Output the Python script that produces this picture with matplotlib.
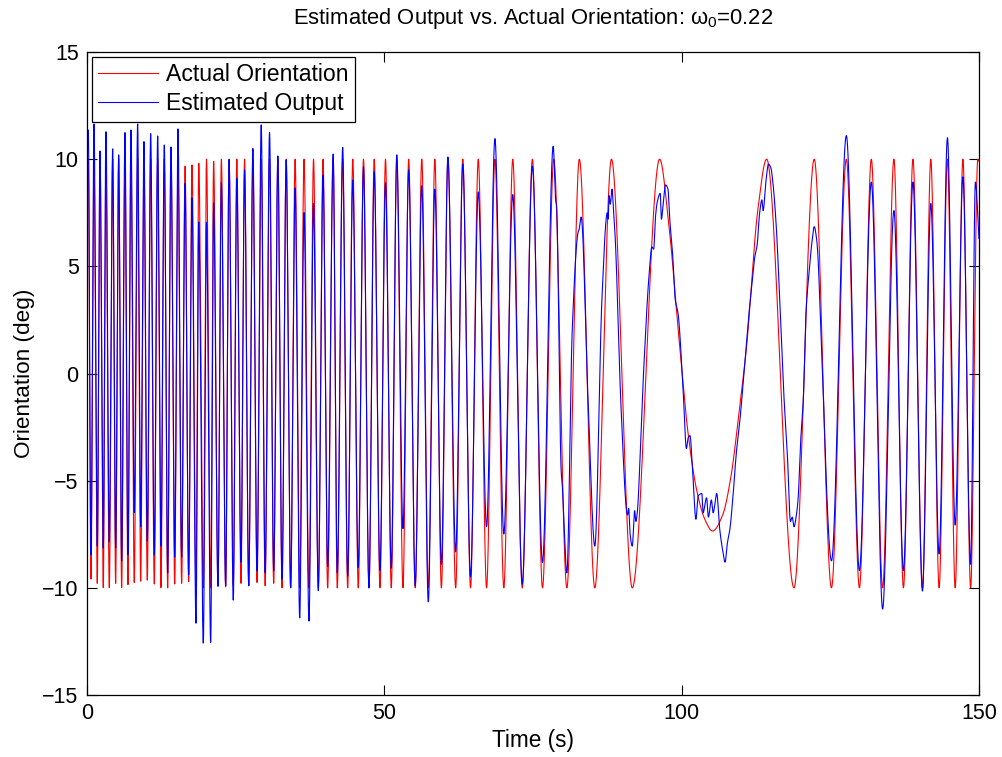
import numpy as np
import matplotlib
matplotlib.use("Agg")
import matplotlib.pyplot as plt

plt.rcParams["font.family"] = ["Liberation Sans", "DejaVu Sans"]
plt.rcParams["mathtext.fontset"] = "custom"
plt.rcParams["mathtext.rm"] = "Liberation Sans"
plt.rcParams["mathtext.it"] = "Liberation Sans"
plt.rcParams["axes.unicode_minus"] = True

# ---------------------------------------------------------------------------
# Actual orientation: turning points of the swept sine (time in s, value in deg)
# ---------------------------------------------------------------------------
red_start_t, red_start_v = 0.0, 8.5
red_end_t, red_end_v = 150.0, 9.9

red_max_t = [0.22, 1.18, 2.19, 3.19, 4.32, 5.33, 6.39, 7.4, 8.52, 9.58, 10.71,
             11.89, 13.0, 14.13, 15.3, 16.5, 17.66, 18.8, 20.1, 21.3, 22.6, 23.9,
             25.2, 26.5, 27.9, 29.3, 30.7, 32.1,
             33.5, 35.0, 36.5, 38.1, 39.7, 41.4, 43.0, 44.7, 46.5, 48.3, 50.2,
             52.1, 54.1, 56.3, 58.5, 60.7, 63.2, 65.8,
             68.6, 71.6, 74.9, 78.5, 82.8, 88.2, 96.3, 114.3, 122.3,
             127.7, 131.9, 135.7, 138.9, 141.9, 144.7, 147.3, 149.8]
red_max_v = [10, 10, 10, 10, 10, 10, 10, 10, 10, 10, 10,
             10, 10, 10, 10, 9.67, 9.73, 9.8, 10, 9.9, 10, 9.95,
             10, 10, 10, 10, 10, 10,
             10, 10, 10, 10, 10, 10, 10, 10, 10, 10, 10,
             10, 10, 10, 10, 10, 10, 10,
             10, 10, 10, 10, 10, 10, 10, 10, 10,
             10, 10, 10, 10, 10, 10, 10, 10]

red_min_t = [0.67, 1.73, 2.74, 3.75, 4.82, 5.83, 6.89, 7.95, 9.03, 10.14, 11.32,
             12.44, 13.57, 14.75, 15.92, 17.1, 18.33, 19.56, 20.8, 22.03, 23.32,
             24.6, 25.9, 27.2, 28.6, 29.96, 31.4, 32.8,
             34.25, 35.77, 37.33, 38.9, 40.47, 42.09, 43.84, 45.62, 47.42, 49.27,
             51.17, 53.14, 55.2, 57.4, 59.6, 62.0, 64.5,
             67.2, 70.1, 73.2, 76.6, 80.7, 85.4, 91.7, 105.2, 118.9,
             125.2, 129.9, 133.8, 137.3, 140.5, 143.3, 146.0, 148.6]
red_min_v = [-9.59, -9.79, -9.99, -9.99, -9.79, -9.99, -9.85, -9.75, -9.69, -9.64, -9.82,
             -9.99, -10, -9.82, -9.79, -9.7, -9.95, -10, -10, -9.9, -9.95,
             -9.85, -9.79, -9.9, -9.75, -9.9, -9.79, -10,
             -10, -10, -10, -10, -10, -10, -10, -10, -10, -10,
             -10, -10, -10, -10, -10, -10, -10,
             -10, -10, -10, -10, -10, -10, -10, -7.35, -10,
             -10, -10, -10, -10, -10, -10, -10, -10]

# Slow turn-around of the sweep: broad, flat-bottomed trough
red_slow_t = [97.9, 99.5, 101.0, 102.5, 103.9, 106.9, 108.3, 109.5, 110.9, 112.8]
red_slow_v = [6.8, 1.8, -2.6, -5.4, -6.8, -6.6, -4.8, -2.2, 1.2, 7.6]

# ---------------------------------------------------------------------------
# Estimated output: turning points in the fast parts of the sweep
# ---------------------------------------------------------------------------
blue_start_t, blue_start_v = 0.0, 10.0
blue_end_t, blue_end_v = 150.0, 6.3

blue_max_t = [0.22, 1.18, 2.19, 3.19, 4.32, 5.33, 6.39, 7.4, 8.52, 9.58, 10.71,
              11.89, 13.0, 14.13, 15.3, 16.5, 17.66, 18.8, 20.1, 21.3, 22.6, 23.9,
              25.2, 26.5, 27.9, 29.3, 30.7, 32.1,
              33.5, 35.0, 36.5, 38.1, 39.7, 41.4, 43.0, 44.7, 46.5, 48.3, 50.2,
              52.1, 54.1, 56.3, 58.5, 60.7, 63.2, 65.8,
              68.6, 71.6, 74.9,
              127.7, 131.9, 135.7, 138.9, 141.9, 144.7, 147.3, 149.4]
blue_max_v = [11.36, 11.64, 10.38, 11.28, 10.48, 10.2, 11.24, 11.36, 11.64, 10.82, 11.19,
              11.08, 10.66, 10.57, 11.41, 8.87, 8.2, 7.07, 7.05, 7.96, 8.9, 10.0,
              9.1, 9.5, 10.5, 11.6, 11.24, 10.15,
              9.96, 8.66, 7.51, 7.93, 9.26, 10.24, 10.55, 9.03, 9.65, 9.42, 8.9,
              10.2, 9.5, 8.76, 8.6, 10.1, 9.77, 8.47,
              10.96, 8.35, 9.68,
              11.1, 8.93, 7.6, 8.93, 7.93, 11.0, 9.18, 8.93]

blue_min_t = [0.67, 1.73, 2.74, 3.75, 4.82, 5.83, 6.89, 7.95, 9.03, 10.14, 11.32,
              12.44, 13.57, 14.75, 15.92, 17.1, 18.33, 19.56, 20.8, 22.03, 23.32,
              24.6, 25.9, 27.2, 28.6, 29.96, 31.4, 32.8,
              34.25, 35.77, 37.33, 38.9, 40.47, 42.09, 43.84, 45.62, 47.42, 49.27,
              51.17, 53.14, 55.2, 57.4, 59.6, 62.0, 64.5,
              67.2, 70.1, 73.2, 76.6,
              125.2, 129.9, 133.8, 137.3, 140.5, 143.3, 146.0, 148.6]
blue_min_v = [-8.47, -8.05, -8.14, -7.85, -8.14, -8.74, -8.47, -6.49, -7.15, -7.82, -8.47,
              -8.05, -9.3, -8.56, -8.56, -9.4, -11.65, -12.58, -12.55, -9.93, -9.9,
              -10.57, -8.8, -9.9, -9.2, -9.3, -9.2, -9.6,
              -9.99, -11.4, -11.55, -10.13, -9.0, -9.3, -9.45, -9.05, -10.0, -9.2,
              -9.08, -7.24, -9.9, -10.65, -8.9, -8.32, -9.49,
              -7.15, -7.49, -9.82, -8.82,
              -8.74, -9.2, -10.99, -9.2, -10.15, -8.42, -7.07, -8.9]

# Estimated output through the slow part of the sweep (noisy stretch)
blue_slow_t = [78.4, 78.85, 78.95, 79.75, 79.95, 80.1, 80.7, 81.6, 82.6, 82.75,
               83.1, 84.3, 85.4, 86.6, 87.5, 87.65, 87.8, 88.0, 88.3, 88.55,
               88.8, 89.8, 90.9, 91.1, 91.3, 91.7, 92.1, 92.3, 92.5, 93.5,
               94.5, 95.0, 95.3, 95.6, 95.9, 96.4, 96.6, 96.8, 97.3, 97.7,
               98.0, 98.5, 98.9, 99.4, 100.3, 100.8, 101.1, 101.4, 101.9, 102.4,
               102.8, 103.4, 103.6, 104.2, 104.5, 105.0, 105.3, 105.9, 106.4, 106.9,
               107.3, 107.7, 108.1, 108.7, 109.2, 109.8, 110.5, 111.2, 111.8, 112.3,
               112.7, 113.1, 113.5, 113.7, 114.2, 114.6, 115.0, 115.4, 115.9, 116.5,
               117.2, 117.8, 118.3, 118.6, 118.9, 119.3, 119.6, 120.0, 120.5, 120.9,
               121.5, 121.9, 122.3, 122.7, 122.9, 123.3]
blue_slow_v = [10.6, 8.0, 7.9, -4.6, -5.3, -6.2, -9.3, 2.0, 6.6, 6.7,
               7.3, -1.5, -8.05, 3.5, 7.5, 7.2, 8.3, 7.9, 8.6, 7.5,
               6.5, -1.5, -6.6, -6.3, -7.4, -8.05, -6.4, -6.9, -6.6, -0.5,
               4.5, 5.9, 5.8, 7.3, 8.0, 8.4, 7.2, 7.6, 8.8, 8.6,
               7.2, 5.5, 3.5, 2.8, -1.05, -3.5, -3.0, -2.9, -4.8, -6.8,
               -5.7, -5.6, -6.5, -5.8, -6.7, -5.9, -6.5, -5.6, -7.25, -8.25,
               -8.8, -7.9, -7.3, -5.5, -3.7, -2.2, 0.1, 2.45, 4.1, 5.44,
               6.0, 7.44, 8.1, 7.6, 9.03, 9.77, 9.6, 8.76, 6.93, 3.43,
               -1.05, -3.9, -6.9, -6.7, -7.15, -6.6, -5.8, -3.24, -1.0, 2.77,
               4.92, 6.1, 6.85, 6.27, 5.6, 2.96]


def pchip(xk, yk, xq):
    """Shape-preserving piecewise cubic Hermite curve through (xk, yk)."""
    xk = np.asarray(xk, float)
    yk = np.asarray(yk, float)
    h = np.diff(xk)
    delta = np.diff(yk) / h
    d = np.zeros_like(yk)
    for k in range(1, len(xk) - 1):
        if delta[k - 1] * delta[k] > 0:
            w1 = 2 * h[k] + h[k - 1]
            w2 = h[k] + 2 * h[k - 1]
            d[k] = (w1 + w2) / (w1 / delta[k - 1] + w2 / delta[k])
    d[0] = delta[0]
    d[-1] = delta[-1]
    idx = np.clip(np.searchsorted(xk, xq) - 1, 0, len(xk) - 2)
    x0 = xk[idx]
    hh = h[idx]
    s = (xq - x0) / hh
    h00 = 2 * s**3 - 3 * s**2 + 1
    h10 = s**3 - 2 * s**2 + s
    h01 = -2 * s**3 + 3 * s**2
    h11 = s**3 - s**2
    return h00 * yk[idx] + h10 * hh * d[idx] + h01 * yk[idx + 1] + h11 * hh * d[idx + 1]


def knots(*pairs):
    t = np.concatenate([np.atleast_1d(np.asarray(a, float)) for a, _ in pairs])
    v = np.concatenate([np.atleast_1d(np.asarray(b, float)) for _, b in pairs])
    order = np.argsort(t)
    return t[order], v[order]


red_t, red_v = knots((red_start_t, red_start_v), (red_max_t, red_max_v),
                     (red_min_t, red_min_v), (red_slow_t, red_slow_v),
                     (red_end_t, red_end_v))
blue_t, blue_v = knots((blue_start_t, blue_start_v), (blue_max_t, blue_max_v),
                       (blue_min_t, blue_min_v), (blue_slow_t, blue_slow_v),
                       (blue_end_t, blue_end_v))

time = np.linspace(0, 150, 30001)
actual = pchip(red_t, red_v, time)
estimated = pchip(blue_t, blue_v, time)

fig = plt.figure(figsize=(10.02, 7.57), dpi=100)
ax = fig.add_axes([0.0868, 0.0819, 0.8902, 0.8494])

ax.plot(time, actual, color=(1, 0, 0), lw=0.8, label="Actual Orientation")
ax.plot(time, estimated, color=(0, 0, 1), lw=0.8, label="Estimated Output")

ax.set_xlim(0, 150)
ax.set_ylim(-15, 15)
ax.set_xticks([0, 50, 100, 150])
ax.set_yticks([-15, -10, -5, 0, 5, 10, 15])
ax.tick_params(direction="in", length=7, width=0.8, labelsize=15.5,
               top=True, right=True, pad=6)
for sp in ax.spines.values():
    sp.set_linewidth(0.9)

ax.set_xlabel("Time (s)", fontsize=16.3, labelpad=3)
ax.set_ylabel("Orientation (deg)", fontsize=16.2, labelpad=5)
ax.set_title(r"Estimated Output vs. Actual Orientation: $\omega_0$=0.22",
             fontsize=15.8, pad=20)

leg = ax.legend(loc="upper left", bbox_to_anchor=(0.0056, 0.9922),
                borderaxespad=0, fontsize=16.6, handlelength=2.6,
                handletextpad=0.35, labelspacing=0.25, borderpad=0.28,
                fancybox=False, framealpha=1, edgecolor="black")
leg.get_frame().set_linewidth(0.9)

fig.savefig("out.png", dpi=100)
